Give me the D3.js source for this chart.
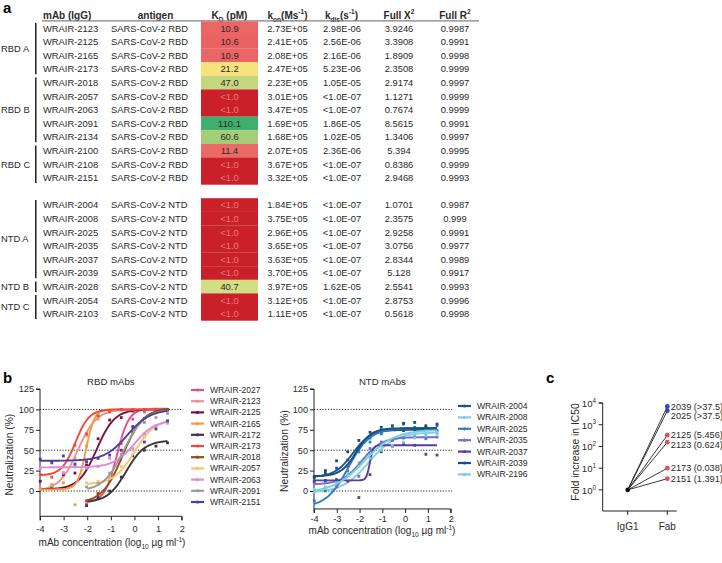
<!DOCTYPE html>
<html><head><meta charset="utf-8">
<script src="https://cdn.jsdelivr.net/npm/d3@7"></script>
<style>body{margin:0;background:#fff}svg{font-family:"Liberation Sans",Arial,Helvetica,sans-serif}</style>
</head><body><svg id="chart" width="722" height="563"></svg>
<script>
// ---------------- Panel a data ----------------
const mAbs = ["WRAIR-2123","WRAIR-2125","WRAIR-2165","WRAIR-2173","WRAIR-2018","WRAIR-2057","WRAIR-2063","WRAIR-2091","WRAIR-2134","WRAIR-2100","WRAIR-2108","WRAIR-2151","WRAIR-2004","WRAIR-2008","WRAIR-2025","WRAIR-2035","WRAIR-2037","WRAIR-2039","WRAIR-2028","WRAIR-2054","WRAIR-2103"];
const antigens = ["SARS-CoV-2 RBD","SARS-CoV-2 RBD","SARS-CoV-2 RBD","SARS-CoV-2 RBD","SARS-CoV-2 RBD","SARS-CoV-2 RBD","SARS-CoV-2 RBD","SARS-CoV-2 RBD","SARS-CoV-2 RBD","SARS-CoV-2 RBD","SARS-CoV-2 RBD","SARS-CoV-2 RBD","SARS-CoV-2 NTD","SARS-CoV-2 NTD","SARS-CoV-2 NTD","SARS-CoV-2 NTD","SARS-CoV-2 NTD","SARS-CoV-2 NTD","SARS-CoV-2 NTD","SARS-CoV-2 NTD","SARS-CoV-2 NTD"];
const kdLabels = ["10.9","10.6","10.9","21.2","47.0","<1.0","<1.0","110.1","60.6","11.4","<1.0","<1.0","<1.0","<1.0","<1.0","<1.0","<1.0","<1.0","40.7","<1.0","<1.0"];
const kon = ["2.73E+05","2.41E+05","2.08E+05","2.47E+05","2.23E+05","3.01E+05","3.47E+05","1.69E+05","1.68E+05","2.07E+05","3.67E+05","3.32E+05","1.84E+05","3.75E+05","2.96E+05","3.65E+05","3.63E+05","3.70E+05","3.97E+05","3.12E+05","1.11E+05"];
const kdis = ["2.98E-06","2.56E-06","2.16E-06","5.23E-06","1.05E-05","<1.0E-07","<1.0E-07","1.86E-05","1.02E-05","2.36E-06","<1.0E-07","<1.0E-07","<1.0E-07","<1.0E-07","<1.0E-07","<1.0E-07","<1.0E-07","<1.0E-07","1.62E-05","<1.0E-07","<1.0E-07"];
const chi2 = ["3.9246","3.3908","1.8909","2.3508","2.9174","1.1271","0.7674","8.5615","1.3406","5.394","0.8386","2.9468","1.0701","2.3575","2.9258","3.0756","2.8344","5.128","2.5541","2.8753","0.5618"];
const r2 = ["0.9987","0.9991","0.9998","0.9999","0.9997","0.9999","0.9999","0.9991","0.9997","0.9995","0.9999","0.9993","0.9987","0.999","0.9991","0.9977","0.9989","0.9917","0.9993","0.9996","0.9998"];
const groupNames = ["RBD A","RBD B","RBD C","NTD A","NTD B","NTD C"];
const groupFirst = [0,4,9,12,18,19];
const groupLast  = [3,8,11,17,18,20];

// ---------------- Panel b data ----------------
const dilutions = [-3.99,-3.5,-3.01,-2.52,-2.03,-1.54,-1.05,-0.56,-0.07,0.42,0.91,1.4];
const rbdNames  = ["WRAIR-2027","WRAIR-2123","WRAIR-2125","WRAIR-2165","WRAIR-2172","WRAIR-2173","WRAIR-2018","WRAIR-2057","WRAIR-2063","WRAIR-2091","WRAIR-2151"];
const rbdColors = ["#e84a8c","#e99393","#7d0f3f","#f39b3d","#3a3a3a","#ee4a3b","#8e4f19","#f8c46e","#d88fd6","#9a9a9a","#4e3f9b"];
const rbdStart  = [-2,-4,-4,-4,-2,-4,-2,-2,-4,-2,-4];
const rbdBottom = [-14,0,2,2,-14,19,-15,8,29,0,37];
const rbdTop    = [101,100,100,100,62,100,102,88,87,100,100];
const rbdEC50   = [-0.75,-2.4,-1.6,-2.05,-0.35,-2.5,-0.5,0.0,0.0,-0.45,-0.3];
const rbdHill   = [1.7,1.1,1.15,2.5,1.1,1.5,1.0,1.0,1.0,1.0,0.9];
const rbdPoints = [
  [-16,-4,18,58,88,97,100,99],
  [3,8,22,40,68,88,97,99,100,100,100,100],
  [12,4,20,22,32,64,87,90,98,100,100,100],
  [2,6,10,-17,55,95,99,100,100,100,100,100],
  [-18,-8,0,17,43,50,55,59],
  [20,17,22,56,70,92,97,100,100,100,100,100],
  [-12,-3,14,42,72,89,97,100],
  [10,12,18,30,50,66,78,85],
  [27,34,22,31,28,30,40,64,52,70,80,83],
  [5,9,22,45,78,84,90,95],
  [39,35,43,33,36,40,44,50,79,60,76,86]
];
const ntdNames  = ["WRAIR-2004","WRAIR-2008","WRAIR-2025","WRAIR-2035","WRAIR-2037","WRAIR-2039","WRAIR-2196"];
const ntdColors = ["#22518e","#86cbea","#2f7fc0","#6e72c4","#5a3d9c","#1a4d7a","#79d0d0"];
const ntdBottom = [17,-2,-20,8,13,18,-2];
const ntdTop    = [75,72,77,66,56,77,75];
const ntdEC50   = [-2.3,-1.6,-2.5,-1.9,-1.55,-2.15,-1.8];
const ntdHill   = [1.1,0.75,0.9,1.0,6,1.3,0.65];
const ntdPoints = [
  [18,22,28,38,52,65,72,76,74,75,78,74],
  [2,5,12,22,35,45,55,62,65,68,70,72],
  [-12,0,8,30,48,60,70,76,82,78,75,80],
  [10,12,5,25,18,52,60,62,65,66,64,66],
  [12,13,14,12,-8,20,48,55,57,56,45,44],
  [16,25,37,48,62,72,78,80,83,84,80,82],
  [-2,3,10,20,30,40,50,56,60,65,68,70]
];
const yTicksB = [0,25,50,75,100,125];
const xTicksB = [-4,-3,-2,-1,0,1,2];

// ---------------- Panel c data ----------------
const cCategories = ["IgG1","Fab"];
const cLabels = ["2039 (>37.5)","2025 (>37.5)","2125 (5.456)","2123 (0.624)","2173 (0.038)","2151 (1.391)"];
const cIgG1 = [1,1,1,1,1,1];
const cFab = [6900,4400,330,157,10,3.3];
const cTarget = ["NTD","NTD","RBD","RBD","RBD","RBD"];
const cTicks = [1,10,100,1000,10000];

// ---------------- helpers ----------------
const svg = d3.select("#chart");
const TXT = "#2a2a2a";
function rich(g, x, y, parts, o) {
  const t = g.append("text").attr("x", x).attr("y", y)
    .attr("text-anchor", o.anchor || "start").attr("font-size", o.size)
    .attr("font-weight", o.weight || "normal").attr("fill", o.fill || TXT);
  if (o.rotate) t.attr("transform", `rotate(-90,${x},${y})`);
  let shift = 0;
  parts.forEach(p => {
    const target = p.sub ? o.size * 0.3 : p.sup ? -o.size * 0.42 : 0;
    const s = t.append("tspan").text(p.t).attr("dy", target - shift);
    shift = target;
    if (p.sub || p.sup) s.attr("font-size", o.size * 0.66);
  });
  return t;
}
const fourPL = (x, b, t, ec, h) => b + (t - b) / (1 + Math.pow(10, (ec - x) * h));

// ================= Panel a =================
const ga = svg.append("g");
ga.append("text").attr("x", 3).attr("y", 13).attr("font-size", 15).attr("font-weight", "bold").text("a");
const rowY = i => 28.3 + 13.6 * (i < 12 ? i : i + 1);
const hdrY = 18.5, FS = 9.4;
rich(ga, 43, hdrY, [{t:"mAb (IgG)"}], {size:10, weight:"bold"});
rich(ga, 155.5, hdrY, [{t:"antigen"}], {size:10, weight:"bold", anchor:"middle"});
rich(ga, 229.5, hdrY, [{t:"K"},{t:"D",sub:true},{t:" (pM)"}], {size:10, weight:"bold", anchor:"middle"});
rich(ga, 287.5, hdrY, [{t:"k"},{t:"on",sub:true},{t:"(Ms"},{t:"-1",sup:true},{t:")"}], {size:10, weight:"bold", anchor:"middle"});
rich(ga, 341.5, hdrY, [{t:"k"},{t:"dis",sub:true},{t:"(s"},{t:"-1",sup:true},{t:")"}], {size:10, weight:"bold", anchor:"middle"});
rich(ga, 399, hdrY, [{t:"Full X"},{t:"2",sup:true}], {size:10, weight:"bold", anchor:"middle"});
rich(ga, 455, hdrY, [{t:"Full R"},{t:"2",sup:true}], {size:10, weight:"bold", anchor:"middle"});
ga.append("line").attr("x1", 42).attr("x2", 479).attr("y1", 20.8).attr("y2", 20.8).attr("stroke", "#808080").attr("stroke-width", 1.3);

const kdNum = kdLabels.map(s => s.startsWith("<") ? 0.5 : +s);
const kdColor = d3.scaleLinear()
  .domain([0, 1, 10.6, 11.4, 21.2, 40.7, 47, 60.6, 110.1])
  .range(["#c9202a","#c9202a","#eb6262","#ec6a66","#f7e27b","#d2de83","#c5d77d","#a3ce78","#3faf6e"]);

mAbs.forEach((m, i) => {
  const y = rowY(i);
  ga.append("rect").attr("x", 201).attr("y", y - 6.9).attr("width", 57).attr("height", 13.7)
    .attr("fill", kdColor(kdNum[i]));
  const tx = (x, s, anchor, fill) => ga.append("text").attr("x", x).attr("y", y).attr("dy", "0.35em")
    .attr("font-size", FS).attr("fill", fill || TXT).attr("text-anchor", anchor).text(s);
  tx(43, m, "start");
  tx(111, antigens[i], "start");
  tx(229.5, kdLabels[i], "middle", kdNum[i] < 1 ? "#f07a78" : TXT);
  tx(287.5, kon[i], "middle");
  tx(342, kdis[i], "middle");
  tx(399, chi2[i], "middle");
  tx(455, r2[i], "middle");
});
groupNames.forEach((g, k) => {
  const y1 = rowY(groupFirst[k]) - 5.2, y2 = rowY(groupLast[k]) + 5.2;
  ga.append("line").attr("x1", 35.8).attr("x2", 35.8).attr("y1", y1).attr("y2", y2)
    .attr("stroke", "#111").attr("stroke-width", 1.4);
  ga.append("text").attr("x", 1).attr("y", (y1 + y2) / 2).attr("dy", "0.35em")
    .attr("font-size", FS).attr("fill", TXT).text(g);
});

// ================= Panel b =================
svg.append("text").attr("x", 3).attr("y", 383).attr("font-size", 15).attr("font-weight", "bold").text("b");

function doseChart(o) {
  const g = svg.append("g");
  const x = d3.scaleLinear().domain([-4, 2]).range([o.x0, o.x1]);
  const y = d3.scaleLinear().domain([0, 125]).range([o.y0, o.y125]);
  const yb = y(o.ymin);
  [0, 50, 100].forEach(v => g.append("line").attr("x1", o.x0).attr("x2", o.x1 + 1.5)
    .attr("y1", y(v)).attr("y2", y(v)).attr("stroke", "#222").attr("stroke-width", 1)
    .attr("stroke-dasharray", "1.2,1.6"));
  const ya = g.append("g").attr("transform", `translate(${o.x0},0)`)
    .call(d3.axisLeft(y).tickValues(yTicksB).tickSize(4).tickPadding(2));
  const xa = g.append("g").attr("transform", `translate(0,${yb})`)
    .call(d3.axisBottom(x).tickValues(xTicksB).tickSize(4).tickPadding(o.xpad).tickFormat(d3.format("d")));
  [ya, xa].forEach(a => {
    a.selectAll("path,line").attr("stroke", "#222").attr("stroke-width", 1);
    a.selectAll("text").attr("font-size", 9.2).attr("fill", TXT)
      .attr("font-family", '"Liberation Sans",Arial,sans-serif');
  });
  ya.select(".domain").attr("d", `M-4,${y(125)}H0V${yb}`);
  xa.select(".domain").attr("d", `M${o.x0},4V0H${o.x1}V4`);
  xa.selectAll("text").text(d => d < 0 ? "-" + Math.abs(d) : d);
  g.append("text").attr("x", (o.x0 + o.x1) / 2).attr("y", 385).attr("text-anchor", "middle")
    .attr("font-size", 9.6).attr("fill", TXT).text(o.title);
  rich(g, o.ylabX, (y(125) + yb) / 2 + 2, [{t:"Neutralization (%)"}], {size:10.3, anchor:"middle", rotate:true});
  rich(g, o.titleX, o.titleY, [{t:"mAb concentration (log"},{t:"10",sub:true},{t:" µg ml"},{t:"-1",sup:true},{t:")"}], {size:10, anchor:"middle"});
  const line = d3.line().x(d => x(d[0])).y(d => y(d[1])).curve(d3.curveBasis);
  o.names.forEach((n, i) => {
    const xs = d3.range(121).map(k => o.start[i] + (1.4 - o.start[i]) * k / 120);
    g.append("path").datum(xs.map(v => [v, fourPL(v, o.bottom[i], o.top[i], o.ec[i], o.hill[i])]))
      .attr("d", line).attr("fill", "none").attr("stroke", o.colors[i]).attr("stroke-width", 1.9);
    const pts = o.points[i], xv = dilutions.slice(dilutions.length - pts.length);
    g.selectAll(null).data(pts).enter().append("rect")
      .attr("x", (d, k) => x(xv[k]) - 1.4).attr("y", d => y(d) - 1.4)
      .attr("width", 2.8).attr("height", 2.8).attr("fill", o.colors[i]);
  });
  o.names.forEach((n, i) => {
    const ly = o.legY + o.legStep * i;
    g.append("line").attr("x1", o.legX).attr("x2", o.legX + 13).attr("y1", ly).attr("y2", ly)
      .attr("stroke", o.colors[i]).attr("stroke-width", 2.2);
    g.append("circle").attr("cx", o.legX + 6.5).attr("cy", ly).attr("r", 1.6).attr("fill", o.colors[i]);
    g.append("text").attr("x", o.legX + 19).attr("y", ly).attr("dy", "0.35em")
      .attr("font-size", 8.6).attr("fill", TXT).text(n);
  });
}

doseChart({x0:40, x1:181.7, y0:491, y125:389, ymin:-31, xpad:5, title:"RBD mAbs",
  ylabX:13, titleX:112, titleY:546, names:rbdNames, colors:rbdColors, start:rbdStart,
  bottom:rbdBottom, top:rbdTop, ec:rbdEC50, hill:rbdHill, points:rbdPoints,
  legX:191, legY:390, legStep:11.2});
doseChart({x0:314, x1:450.7, y0:491, y125:389, ymin:-22, xpad:3, title:"NTD mAbs",
  ylabX:288, titleX:382, titleY:534, names:ntdNames, colors:ntdColors, start:ntdNames.map(() => -4),
  bottom:ntdBottom, top:ntdTop, ec:ntdEC50, hill:ntdHill, points:ntdPoints,
  legX:458, legY:406, legStep:11.4});

// ================= Panel c =================
const gc = svg.append("g");
gc.append("text").attr("x", 546).attr("y", 383).attr("font-size", 15).attr("font-weight", "bold").text("c");
const xc = d3.scalePoint().domain(cCategories).range([627.7, 667.3]);
const yc = d3.scaleLog().domain([Math.pow(10, -0.97), 1e4]).range([511, 403]);
gc.append("path").attr("d", `M598.7,${yc(1e4)}H602.7V511H676.7`).attr("fill", "none").attr("stroke", "#222");
cTicks.forEach(t => {
  gc.append("line").attr("x1", 598.7).attr("x2", 602.7).attr("y1", yc(t)).attr("y2", yc(t)).attr("stroke", "#222");
  rich(gc, 596, yc(t) + 3.8, [{t:"10"},{t:String(Math.round(Math.log10(t))),sup:true}], {size:9.6, anchor:"end"});
});
cCategories.forEach(c => {
  gc.append("line").attr("x1", xc(c)).attr("x2", xc(c)).attr("y1", 511).attr("y2", 515).attr("stroke", "#222");
  gc.append("text").attr("x", xc(c)).attr("y", 530).attr("text-anchor", "middle").attr("font-size", 10).attr("fill", TXT).text(c);
});
rich(gc, 579, 452, [{t:"Fold increase in IC50"}], {size:10.3, anchor:"middle", rotate:true});
const cCol = t => t === "NTD" ? "#2f4fa6" : "#e0505e";
cFab.forEach((v, i) => {
  gc.append("line").attr("x1", xc("IgG1")).attr("y1", yc(cIgG1[i])).attr("x2", xc("Fab")).attr("y2", yc(v))
    .attr("stroke", "#222").attr("stroke-width", 0.9);
});
gc.append("circle").attr("cx", xc("IgG1")).attr("cy", yc(1)).attr("r", 2.3).attr("fill", "#111");
let lastY = -Infinity;
cFab.forEach((v, i) => {
  gc.append("circle").attr("cx", xc("Fab")).attr("cy", yc(v)).attr("r", 2.4).attr("fill", cCol(cTarget[i]));
  let ly = Math.max(yc(v), lastY + 9.2);
  lastY = ly;
  gc.append("text").attr("x", xc("Fab") + 3.5).attr("y", ly).attr("dy", "0.35em")
    .attr("font-size", 9.2).attr("fill", TXT).text(cLabels[i]);
});
</script></body></html>
